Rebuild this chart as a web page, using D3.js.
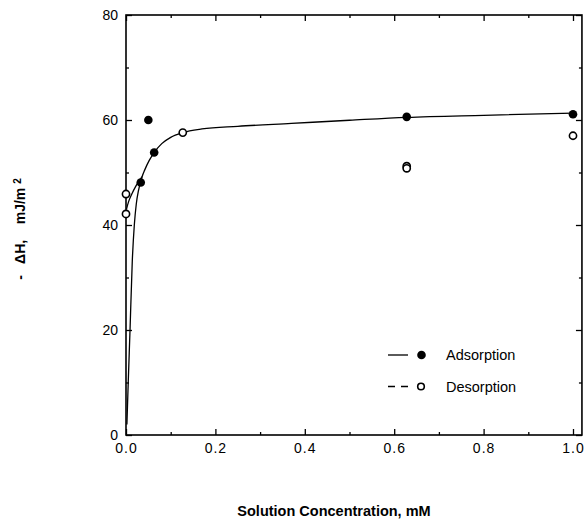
<!DOCTYPE html>
<html>
<head>
    <script src="https://d3js.org/d3.v7.min.js"></script>
    <style>
        body { margin: 0; background: #fff; }
        text { font-family: "Liberation Sans", Arial, sans-serif; fill: #000; }
    </style>
</head>
<body>
    <svg width="585" height="519"></svg>
    <script>
        // measured points
        const adsConc = [0.033, 0.050, 0.063, 0.628, 1.0];
        const adsHeat = [48.1, 60.0, 53.8, 60.6, 61.1];
        const desConc = [0.0, 0.0, 0.127, 0.628, 0.628, 1.0];
        const desHeat = [45.9, 42.1, 57.6, 51.2, 50.8, 57.0];

        // fitted curves
        const fitConc = [0.002, 0.005, 0.009, 0.014, 0.0186, 0.023, 0.028, 0.033, 0.036, 0.042, 0.052, 0.063, 0.08, 0.1, 0.127, 0.17, 0.25, 0.37, 0.5, 0.628, 0.8, 1.0];
        const fitHeat = [2, 10, 20, 33, 40, 44, 46.6, 48.3, 49.2, 50.5, 52.3, 53.8, 55.5, 56.7, 57.6, 58.3, 58.8, 59.35, 59.95, 60.5, 60.9, 61.3];
        const desFitConc = [0.001, 0.006, 0.013, 0.022, 0.036];
        const desFitHeat = [43.0, 44.5, 45.9, 47.4, 49.2];

        const xTicks = [0, 0.2, 0.4, 0.6, 0.8, 1.0];
        const xMinor = [0.1, 0.3, 0.5, 0.7, 0.9];
        const yTicks = [0, 20, 40, 60, 80];
        const yMinor = [10, 30, 50, 70];

        const mLeft = 126, mTop = 15, mBottom = 435;

        const svg = d3.select("svg");
        const x = d3.scaleLinear().domain([0, 1]).range([mLeft, 573]);
        const y = d3.scaleLinear().domain([0, 80]).range([mBottom, mTop]);
        const mRight = x(1.02);

        // ticks, all pointing inward
        const ax = (g, axis) => { g.call(axis); g.select(".domain").remove(); g.selectAll("line").attr("stroke-width", 1.3); };

        svg.append("g").attr("transform", "translate(0," + mBottom + ")")
            .call(g => ax(g, d3.axisBottom(x).tickValues(xTicks).tickSize(-6).tickPadding(10).tickFormat(d3.format(".1f"))))
            .selectAll("text").style("font-size", "14px").style("letter-spacing", "1px").attr("dy", "0.6em");
        svg.append("g").attr("transform", "translate(0," + mBottom + ")")
            .call(g => ax(g, d3.axisBottom(x).tickValues(xMinor).tickSize(-3).tickFormat("")));
        svg.append("g").attr("transform", "translate(0," + mTop + ")")
            .call(g => ax(g, d3.axisTop(x).tickValues(xTicks).tickSize(-6).tickFormat("")));
        svg.append("g").attr("transform", "translate(0," + mTop + ")")
            .call(g => ax(g, d3.axisTop(x).tickValues(xMinor).tickSize(-3).tickFormat("")));

        svg.append("g").attr("transform", "translate(" + mLeft + ",0)")
            .call(g => ax(g, d3.axisLeft(y).tickValues(yTicks).tickSize(-6).tickPadding(8)))
            .selectAll("text").style("font-size", "14px");
        svg.append("g").attr("transform", "translate(" + mLeft + ",0)")
            .call(g => ax(g, d3.axisLeft(y).tickValues(yMinor).tickSize(-3).tickFormat("")));
        svg.append("g").attr("transform", "translate(" + mRight + ",0)")
            .call(g => ax(g, d3.axisRight(y).tickValues(yTicks).tickSize(-6).tickFormat("")));
        svg.append("g").attr("transform", "translate(" + mRight + ",0)")
            .call(g => ax(g, d3.axisRight(y).tickValues(yMinor).tickSize(-3).tickFormat("")));

        // frame
        svg.append("rect")
            .attr("x", mLeft).attr("y", mTop)
            .attr("width", mRight - mLeft).attr("height", mBottom - mTop)
            .attr("fill", "none").attr("stroke", "#000").attr("stroke-width", 1.6);

        // fitted curves
        const line = d3.line().curve(d3.curveMonotoneX);
        svg.append("path")
            .attr("d", line(fitConc.map((c, i) => [x(c), y(fitHeat[i])])))
            .attr("fill", "none").attr("stroke", "#000").attr("stroke-width", 1.3);
        svg.append("path")
            .attr("d", line(desFitConc.map((c, i) => [x(c), y(desFitHeat[i])])))
            .attr("fill", "none").attr("stroke", "#000").attr("stroke-width", 1.3);

        // points
        svg.selectAll(".ads").data(adsConc).enter().append("circle")
            .attr("cx", d => x(d)).attr("cy", (d, i) => y(adsHeat[i]))
            .attr("r", 4.3).attr("fill", "#000");
        svg.selectAll(".des").data(desConc).enter().append("circle")
            .attr("cx", d => x(d)).attr("cy", (d, i) => y(desHeat[i]))
            .attr("r", 3.6).attr("fill", "#fff").attr("stroke", "#000").attr("stroke-width", 1.6);

        // legend
        svg.append("line").attr("x1", 388).attr("x2", 408).attr("y1", 355).attr("y2", 355)
            .attr("stroke", "#000").attr("stroke-width", 1.3);
        svg.append("circle").attr("cx", 421.5).attr("cy", 355).attr("r", 4.3).attr("fill", "#000");
        svg.append("text").attr("x", 446).attr("y", 355).attr("dy", "0.35em")
            .style("font-size", "14.5px").text("Adsorption");
        svg.append("line").attr("x1", 388).attr("x2", 408).attr("y1", 386.5).attr("y2", 386.5)
            .attr("stroke", "#000").attr("stroke-width", 1.3).attr("stroke-dasharray", "7,6");
        svg.append("circle").attr("cx", 421).attr("cy", 386.5).attr("r", 3.3)
            .attr("fill", "#fff").attr("stroke", "#000").attr("stroke-width", 1.6);
        svg.append("text").attr("x", 446).attr("y", 386.5).attr("dy", "0.35em")
            .style("font-size", "14.5px").text("Desorption");

        // axis titles
        svg.append("text")
            .attr("x", 334).attr("y", 516)
            .style("text-anchor", "middle").style("font-size", "14.5px").style("font-weight", "bold")
            .text("Solution Concentration, mM");

        const yl = svg.append("text")
            .attr("transform", "translate(25,229) rotate(-90)")
            .style("text-anchor", "middle").style("font-size", "14px").style("font-weight", "bold")
            .style("white-space", "pre");
        yl.append("tspan").text("-   ΔH,    mJ/m ");
        yl.append("tspan").attr("dy", "-0.45em").style("font-size", "10px").text("2");
    </script>
</body>
</html>
